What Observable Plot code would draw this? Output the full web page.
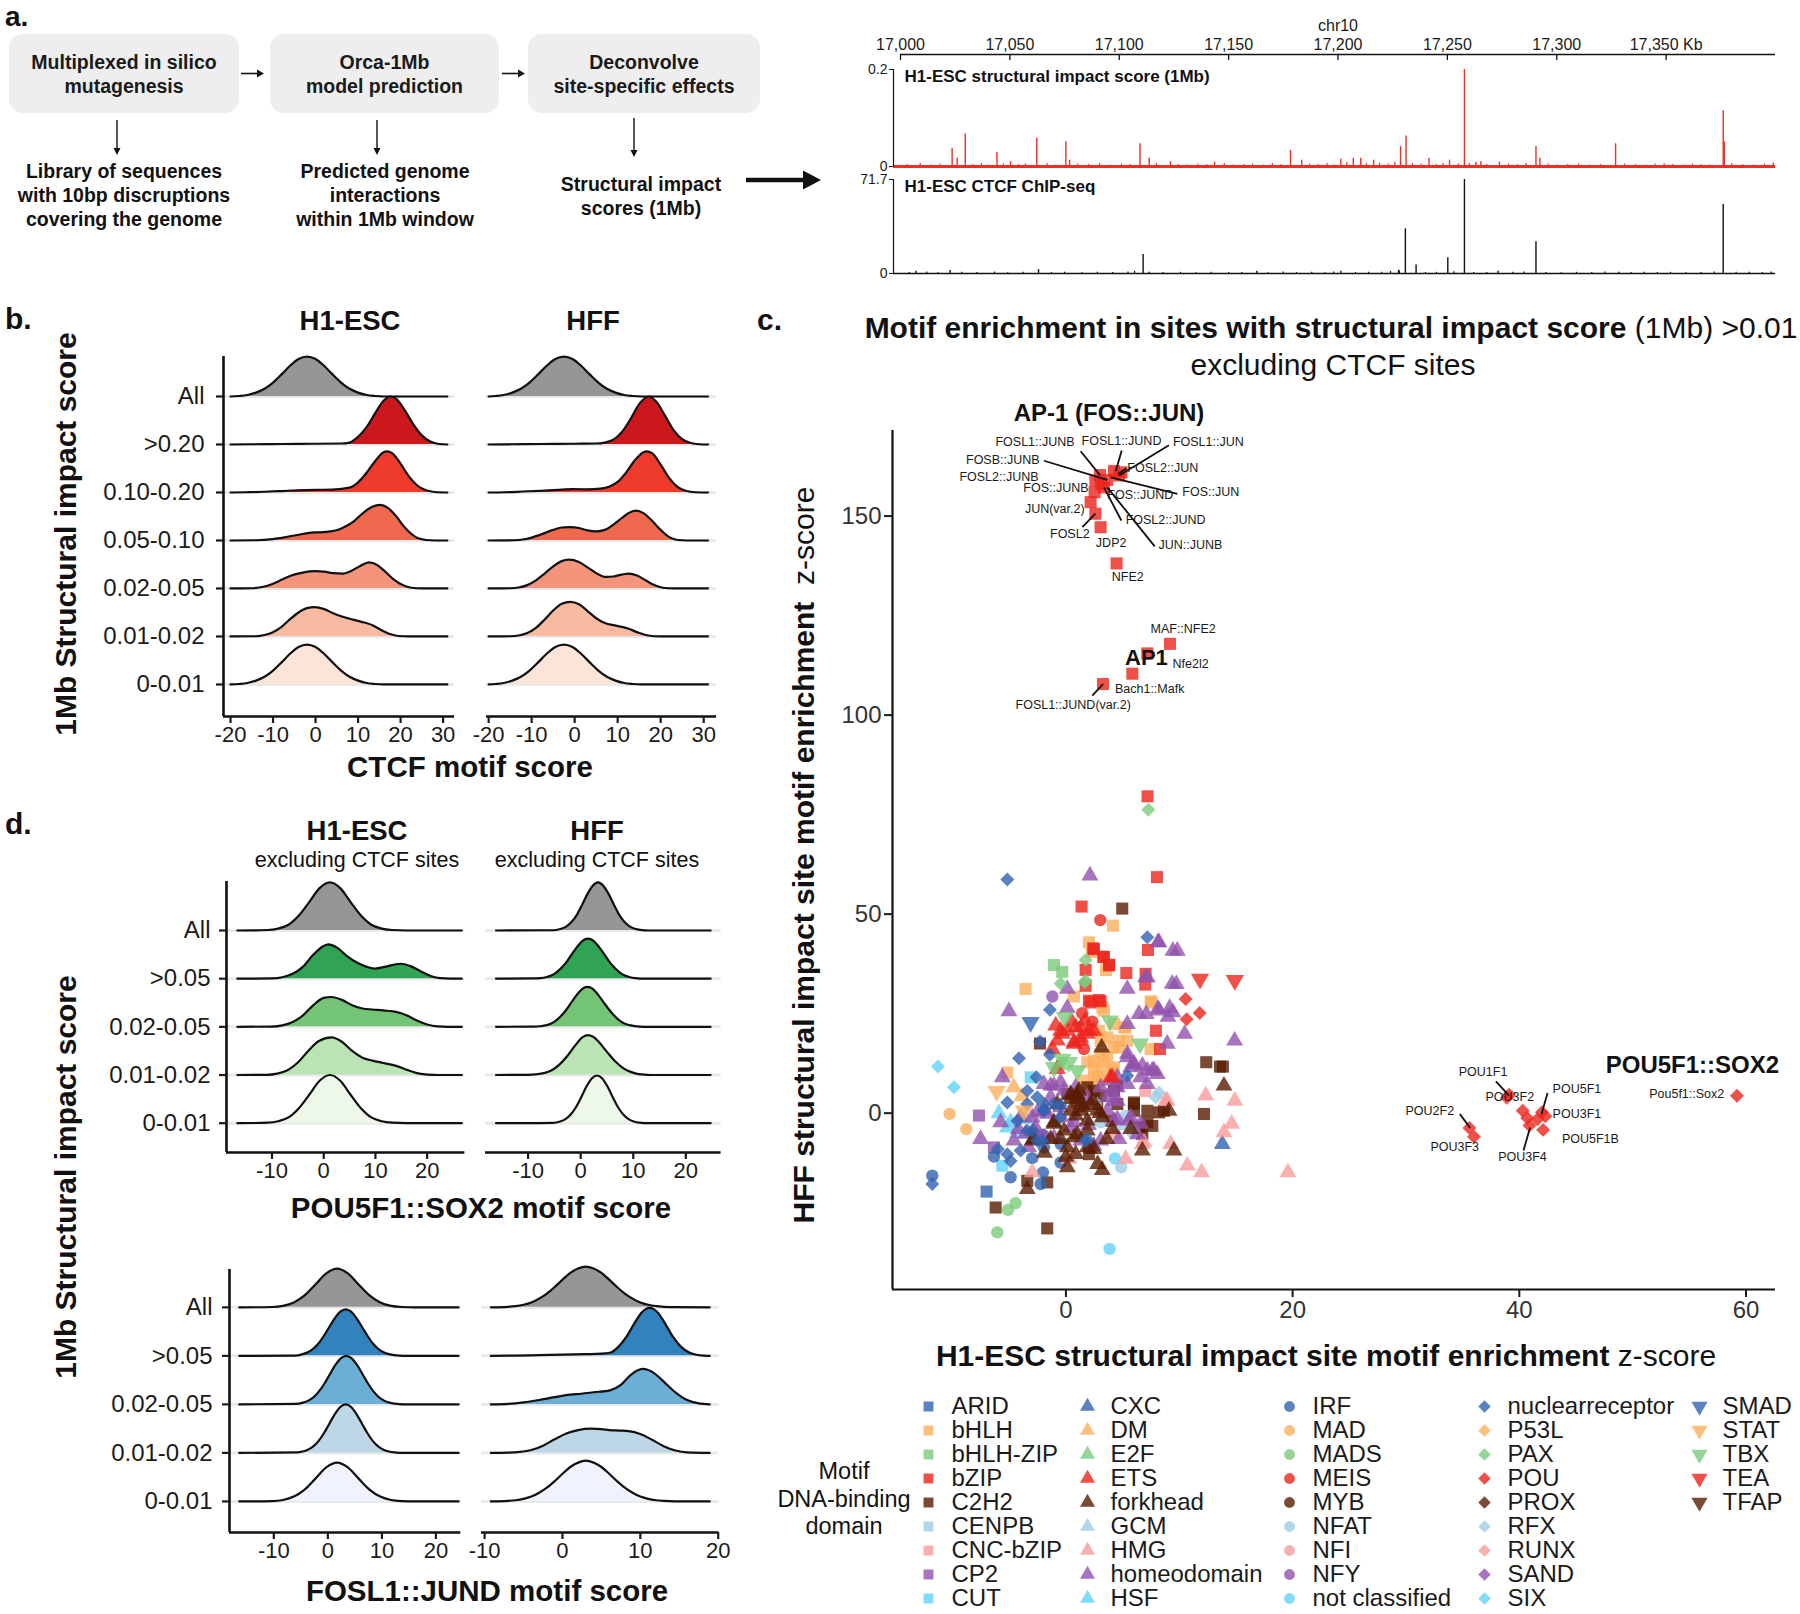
<!DOCTYPE html>
<html><head><meta charset="utf-8">
<script src="https://cdn.jsdelivr.net/npm/d3@7"></script>
<script src="https://cdn.jsdelivr.net/npm/@observablehq/plot@0.6"></script>
<style>
body{margin:0;background:#fff;}
#fig{position:relative;width:1800px;height:1614px;overflow:hidden;background:#fff;font-family:"Liberation Sans",Arial,Helvetica,sans-serif;color:#111;}
.box{position:absolute;background:#eeeeee;border-radius:14px;display:flex;align-items:center;justify-content:center;text-align:center;font-weight:bold;font-size:19.5px;line-height:24px;color:#1a1a1a;}
#fig svg{max-width:none !important;}
</style></head>
<body><div id="fig"></div>
<script>
// ---------------- DATA ----------------
// genome track (chr10, kb)
const genomeTicks = [17000, 17050, 17100, 17150, 17200, 17250, 17300, 17350];
const redPeaks = [[17023.6,0.037],[17025.9,0.017],[17029.6,0.067],[17044.1,0.029],[17050.3,0.010],[17057.1,0.005],[17062.3,0.058],[17075.6,0.051],[17077.3,0.013],[17109.5,0.047],[17113.7,0.017],[17123.4,0.010],[17143.6,0.009],[17178.3,0.033],[17183.4,0.013],[17201.3,0.015],[17207.0,0.017],[17210.4,0.017],[17216.3,0.013],[17228.6,0.041],[17231.1,0.063],[17241.6,0.017],[17251.0,0.013],[17257.8,0.200],[17263.0,0.009],[17265.3,0.010],[17273.8,0.009],[17290.5,0.041],[17292.3,0.017],[17326.9,0.047],[17349.1,0.005],[17376.1,0.115],[17376.6,0.051],[17399.0,0.007]];
const redNoise = [[17003,0.004],[17009,0.006],[17014,0.003],[17018,0.005],[17033,0.004],[17037,0.006],[17040,0.003],[17047,0.005],[17054,0.004],[17067,0.006],[17071,0.003],[17081,0.005],[17086,0.004],[17091,0.006],[17096,0.003],[17101,0.005],[17105,0.004],[17117,0.006],[17127,0.004],[17131,0.003],[17136,0.005],[17140,0.004],[17148,0.006],[17152,0.003],[17157,0.004],[17161,0.005],[17166,0.003],[17170,0.006],[17174,0.004],[17187,0.005],[17191,0.004],[17195,0.006],[17198,0.003],[17204,0.008],[17213,0.006],[17219,0.007],[17223,0.005],[17226,0.009],[17234,0.006],[17238,0.005],[17245,0.004],[17248,0.006],[17255,0.005],[17260,0.006],[17268,0.004],[17278,0.005],[17282,0.004],[17286,0.006],[17296,0.005],[17300,0.003],[17305,0.004],[17310,0.005],[17315,0.003],[17320,0.004],[17331,0.005],[17336,0.004],[17341,0.003],[17345,0.005],[17353,0.004],[17358,0.003],[17362,0.005],[17366,0.004],[17370,0.003],[17380,0.006],[17385,0.004],[17390,0.003],[17395,0.005]];
const chipPeaks = [[17007.1,1.8],[17022.7,2.3],[17063.1,3.0],[17110.9,14.5],[17113.7,1.0],[17162.9,1.8],[17201.3,1.8],[17227.7,2.5],[17230.8,34.1],[17235.7,6.4],[17250.2,12.0],[17257.8,71.7],[17273.2,1.8],[17290.5,24.2],[17328.4,1.0],[17376.1,52.6]];
const chipNoise = [[17004,0.8],[17012,1.2],[17017,0.6],[17028,0.9],[17035,0.7],[17043,1.1],[17049,0.6],[17056,0.9],[17069,0.7],[17075,1.0],[17083,0.6],[17090,0.9],[17097,0.8],[17104,1.1],[17107,1.6],[17120,0.7],[17128,0.9],[17135,0.6],[17142,1.0],[17150,0.7],[17156,0.8],[17168,0.6],[17175,1.1],[17181,0.7],[17188,0.9],[17194,0.6],[17198,1.2],[17208,0.8],[17214,0.9],[17220,1.0],[17224,1.6],[17228,2.0],[17240,0.8],[17245,0.9],[17253,1.3],[17262,0.8],[17268,0.7],[17280,0.9],[17285,1.1],[17295,0.8],[17302,0.6],[17309,0.9],[17316,0.7],[17322,1.1],[17334,0.8],[17340,1.0],[17346,0.7],[17352,0.9],[17359,0.6],[17366,0.8],[17372,1.1],[17382,0.9],[17388,1.0],[17394,0.8],[17398,1.2]];

// ridgelines
const ctcfRows = ["All", ">0.20", "0.10-0.20", "0.05-0.10", "0.02-0.05", "0.01-0.02", "0-0.01"];
const ctcfTicks = [-20, -10, 0, 10, 20, 30];
const ctcfH1 = [
 [[-20,0],[-18,0.01],[-16,0.03],[-14,0.08],[-12,0.16],[-10,0.29],[-8,0.46],[-6,0.64],[-4,0.78],[-2,0.83],[0,0.78],[2,0.64],[4,0.46],[6,0.29],[8,0.16],[10,0.08],[12,0.03],[14,0.01],[16,0],[31,0]],
 [[-20,0],[-14,0.005],[-8,0.01],[0,0.015],[6,0.02],[8,0.04],[10,0.16],[12,0.36],[14,0.65],[16,0.91],[17.7,1.0],[19,0.95],[21,0.71],[23,0.42],[25,0.19],[27,0.06],[29,0.01],[31,0]],
 [[-20,0],[-16,0.005],[-12,0.015],[-8,0.03],[-4,0.045],[0,0.055],[4,0.06],[8,0.1],[10,0.21],[12,0.41],[14,0.65],[16,0.84],[16.8,0.855],[18,0.82],[20,0.6],[22,0.33],[24,0.14],[26,0.045],[28,0.01],[31,0]],
 [[-20,0],[-14,0.005],[-10,0.03],[-7,0.07],[-4,0.12],[-1,0.165],[1,0.17],[3.5,0.19],[5.5,0.23],[7,0.29],[9,0.4],[10.5,0.52],[12.5,0.66],[15.2,0.74],[17,0.68],[19,0.5],[21,0.27],[22.5,0.14],[24,0.05],[26,0.01],[28,0],[31,0]],
 [[-20,0],[-15,0.005],[-12,0.04],[-10,0.1],[-8,0.18],[-6,0.26],[-3,0.33],[-0.2,0.36],[2,0.35],[4,0.32],[6.4,0.31],[8.5,0.37],[10.5,0.47],[12.6,0.545],[14.5,0.49],[16.5,0.34],[18.5,0.18],[20.5,0.07],[22.5,0.015],[25,0],[31,0]],
 [[-20,0],[-14,0.005],[-12,0.03],[-10,0.09],[-8,0.2],[-6,0.36],[-4,0.5],[-2,0.59],[-0.2,0.61],[2,0.57],[4,0.49],[6,0.42],[8,0.37],[9.7,0.33],[11.5,0.29],[13.5,0.23],[15.5,0.13],[17.5,0.05],[19.5,0.01],[22,0],[31,0]],
 [[-20,0],[-18,0.01],[-16,0.03],[-14,0.08],[-12,0.16],[-10,0.29],[-8,0.46],[-6,0.64],[-4,0.78],[-2,0.83],[0,0.78],[2,0.64],[4,0.46],[6,0.29],[8,0.16],[10,0.08],[12,0.03],[14,0.01],[16,0],[31,0]]
];
const ctcfHFF = [
 [[-20,0],[-18.5,0.01],[-16.5,0.03],[-14.5,0.08],[-12.5,0.16],[-10.5,0.29],[-8.5,0.46],[-6.5,0.64],[-4.5,0.78],[-2.5,0.83],[-0.5,0.78],[1.5,0.64],[3.5,0.46],[5.5,0.29],[7.5,0.16],[9.5,0.08],[11.5,0.03],[13.5,0.01],[15.5,0],[31,0]],
 [[-20,0],[-14,0.005],[-8,0.01],[0,0.015],[5,0.02],[7,0.04],[9,0.1],[11,0.26],[13,0.53],[15,0.84],[17.2,1.0],[19,0.89],[21,0.6],[23,0.3],[25,0.11],[27,0.03],[29,0.005],[31,0]],
 [[-20,0],[-16,0.005],[-12,0.02],[-8,0.035],[-4,0.055],[-0.5,0.07],[3,0.065],[6,0.08],[8,0.12],[10,0.22],[12,0.42],[14,0.67],[16,0.84],[16.7,0.855],[18,0.82],[20,0.58],[22,0.3],[24,0.11],[26,0.03],[28,0.005],[31,0]],
 [[-20,0],[-14,0.005],[-12,0.02],[-10,0.06],[-8,0.12],[-5,0.22],[-3,0.27],[-1,0.28],[1,0.26],[3,0.21],[5,0.19],[7,0.22],[9,0.33],[11,0.47],[12.5,0.57],[14.2,0.62],[16,0.57],[18,0.41],[20,0.22],[22,0.07],[24,0.01],[26,0],[31,0]],
 [[-20,0],[-15,0.005],[-13,0.02],[-11,0.07],[-9,0.17],[-7,0.31],[-5,0.46],[-3,0.57],[-1.3,0.6],[1,0.55],[3,0.44],[5,0.32],[7.2,0.24],[9,0.25],[11,0.29],[12.6,0.31],[14.5,0.27],[16.5,0.17],[18.5,0.07],[20.5,0.015],[23,0],[31,0]],
 [[-20,0],[-15,0.005],[-13,0.02],[-11,0.07],[-9,0.18],[-7,0.35],[-5,0.54],[-3,0.68],[-1,0.72],[1,0.67],[3,0.53],[5,0.38],[7,0.28],[9.3,0.23],[11,0.2],[12.6,0.16],[14.5,0.09],[16.5,0.03],[18.5,0.005],[21,0],[31,0]],
 [[-20,0],[-18.5,0.01],[-16.5,0.03],[-14.5,0.08],[-12.5,0.16],[-10.5,0.29],[-8.5,0.46],[-6.5,0.64],[-4.5,0.78],[-2.5,0.83],[-0.5,0.78],[1.5,0.64],[3.5,0.46],[5.5,0.29],[7.5,0.16],[9.5,0.08],[11.5,0.03],[13.5,0.01],[15.5,0],[31,0]]
];
const subRows = ["All", ">0.05", "0.02-0.05", "0.01-0.02", "0-0.01"];
const subTicks = [-10, 0, 10, 20];
const pouH1 = [
 [[-16.7,0],[-10.8,0.01],[-8.8,0.04],[-6.8,0.12],[-4.8,0.31],[-2.8,0.59],[-0.8,0.88],[1.2,1.0],[3.2,0.88],[5.2,0.59],[7.2,0.31],[9.2,0.12],[11.2,0.04],[13.2,0.01],[16,0],[26.7,0]],
 [[-16.7,0],[-10,0.005],[-8,0.03],[-6,0.1],[-4,0.25],[-2,0.5],[0,0.68],[0.9,0.71],[2.5,0.65],[4.5,0.47],[6.5,0.33],[8.5,0.24],[9.9,0.21],[12,0.25],[14.8,0.31],[16.8,0.26],[18.8,0.15],[20.8,0.05],[22.5,0.01],[24.5,0],[26.7,0]],
 [[-16.7,0],[-10,0.005],[-8,0.03],[-6,0.1],[-4,0.24],[-2,0.45],[0,0.6],[1.5,0.62],[3.5,0.56],[5.5,0.45],[7.5,0.38],[9.4,0.36],[11.5,0.34],[14,0.31],[16,0.24],[18,0.13],[20,0.05],[22,0.01],[24,0],[26.7,0]],
 [[-16.7,0],[-11,0.005],[-9,0.03],[-7,0.1],[-5,0.26],[-3,0.5],[-1,0.7],[1.5,0.78],[3.5,0.69],[5.5,0.5],[7.5,0.36],[9.4,0.3],[11.5,0.25],[14,0.19],[16,0.11],[18,0.04],[20,0.01],[22,0],[26.7,0]],
 [[-16.7,0],[-10.8,0.01],[-8.8,0.04],[-6.8,0.12],[-4.8,0.31],[-2.8,0.59],[-0.8,0.88],[1.2,1.0],[3.2,0.88],[5.2,0.59],[7.2,0.31],[9.2,0.12],[11.2,0.04],[13.2,0.01],[16,0],[26.7,0]]
];
const pouHFF = [
 [[-16.1,0],[-5,0.005],[-3.7,0.035],[-2.7,0.085],[-1.7,0.18],[-0.7,0.33],[0.3,0.54],[1.3,0.76],[2.3,0.93],[3.3,1.0],[4.3,0.93],[5.3,0.76],[6.3,0.54],[7.3,0.33],[8.3,0.18],[9.3,0.085],[10.3,0.035],[11.3,0.012],[13,0],[24.7,0]],
 [[-16.1,0],[-9,0.005],[-7.6,0.012],[-6.6,0.03],[-5.6,0.065],[-4.6,0.13],[-3.6,0.23],[-2.6,0.36],[-1.6,0.52],[-0.6,0.67],[0.4,0.79],[1.4,0.83],[2.4,0.79],[3.4,0.67],[4.4,0.52],[5.4,0.36],[6.4,0.23],[7.4,0.13],[8.4,0.065],[9.4,0.03],[10.4,0.012],[12,0],[24.7,0]],
 [[-16.1,0],[-9,0.005],[-7.7,0.012],[-6.7,0.03],[-5.7,0.065],[-4.7,0.13],[-3.7,0.23],[-2.7,0.36],[-1.7,0.52],[-0.7,0.67],[0.3,0.79],[1.3,0.83],[2.3,0.79],[3.3,0.67],[4.3,0.52],[5.3,0.37],[6.3,0.24],[7.3,0.14],[8.3,0.07],[9.3,0.035],[10.3,0.014],[12,0],[24.7,0]],
 [[-16.1,0],[-10,0.005],[-8.5,0.015],[-7,0.04],[-5.5,0.1],[-4,0.22],[-2.5,0.4],[-1,0.62],[0.3,0.78],[1.3,0.83],[2.3,0.8],[3.5,0.68],[5,0.48],[6.5,0.29],[8,0.15],[9.5,0.065],[11,0.02],[12.5,0.005],[14,0],[24.7,0]],
 [[-16.1,0],[-5.2,0.005],[-3.9,0.035],[-2.9,0.085],[-1.9,0.18],[-0.9,0.33],[0.1,0.54],[1.1,0.76],[2.1,0.93],[3.1,0.99],[4.1,0.93],[5.1,0.76],[6.1,0.54],[7.1,0.33],[8.1,0.18],[9.1,0.085],[10.1,0.035],[11.1,0.012],[13,0],[24.7,0]]
];
const fosH1 = [
 [[-16.4,0],[-10.3,0.007],[-8.3,0.03],[-6.3,0.1],[-4.3,0.245],[-2.3,0.47],[-0.3,0.7],[1.7,0.8],[3.7,0.7],[5.7,0.47],[7.7,0.245],[9.7,0.1],[11.7,0.03],[13.7,0.007],[16,0],[24.2,0]],
 [[-16.4,0],[-6,0.005],[-4.7,0.035],[-3.7,0.075],[-2.7,0.147],[-1.7,0.26],[-0.7,0.42],[0.3,0.6],[1.3,0.78],[2.3,0.91],[3.3,0.96],[4.3,0.91],[5.3,0.78],[6.3,0.6],[7.3,0.42],[8.3,0.26],[9.3,0.147],[10.3,0.075],[11.3,0.035],[12.3,0.014],[14,0],[24.2,0]],
 [[-16.4,0],[-6,0.01],[-4.6,0.036],[-3.6,0.078],[-2.6,0.153],[-1.6,0.272],[-0.6,0.435],[0.4,0.626],[1.4,0.812],[2.4,0.949],[3.4,1.0],[4.4,0.949],[5.4,0.812],[6.4,0.626],[7.4,0.435],[8.4,0.272],[9.4,0.153],[10.4,0.078],[11.4,0.036],[12.4,0.015],[14,0],[24.2,0]],
 [[-16.4,0],[-5.7,0.011],[-4.7,0.029],[-3.7,0.066],[-2.7,0.135],[-1.7,0.249],[-0.7,0.411],[0.3,0.607],[1.3,0.801],[2.3,0.946],[3.3,1.0],[4.3,0.946],[5.3,0.801],[6.3,0.607],[7.3,0.411],[8.3,0.249],[9.3,0.135],[10.3,0.066],[11.3,0.029],[12.3,0.011],[14,0],[24.2,0]],
 [[-16.4,0],[-10.3,0.007],[-8.3,0.03],[-6.3,0.1],[-4.3,0.245],[-2.3,0.47],[-0.3,0.7],[1.7,0.8],[3.7,0.7],[5.7,0.47],[7.7,0.245],[9.7,0.1],[11.7,0.03],[13.7,0.007],[16,0],[24.2,0]]
];
const fosHFF = [
 [[-9.2,0],[-7,0.011],[-6,0.025],[-5,0.053],[-4,0.1],[-3,0.18],[-2,0.285],[-1,0.42],[0,0.57],[1,0.71],[2,0.8],[3,0.84],[4,0.8],[5,0.71],[6,0.57],[7,0.42],[8,0.285],[9,0.18],[10,0.1],[11,0.053],[12,0.025],[13,0.011],[14.5,0.003],[18.9,0]],
 [[-9.2,0],[-6,0.005],[-3,0.015],[0,0.025],[3,0.035],[5,0.045],[6.2,0.07],[7.2,0.19],[8.2,0.39],[9.2,0.66],[10.2,0.9],[11.2,0.99],[12.2,0.9],[13.2,0.66],[14.2,0.39],[15.2,0.19],[16.2,0.076],[17.2,0.024],[18.2,0.005],[18.9,0]],
 [[-9.2,0],[-7,0.01],[-5,0.04],[-3,0.09],[-1,0.15],[1,0.2],[2.4,0.22],[4,0.25],[6.1,0.29],[7.5,0.4],[8.7,0.6],[10.3,0.73],[11.8,0.64],[13,0.47],[14.5,0.25],[16,0.09],[17.5,0.02],[18.9,0]],
 [[-9.2,0],[-7,0.005],[-5.5,0.02],[-4,0.06],[-2.5,0.15],[-1,0.28],[0.5,0.4],[2,0.47],[3.6,0.5],[5,0.49],[6,0.47],[7.3,0.46],[8.5,0.45],[10,0.39],[11.5,0.27],[13,0.14],[14.5,0.05],[16,0.01],[18.9,0]],
 [[-9.2,0],[-7,0.011],[-6,0.025],[-5,0.053],[-4,0.1],[-3,0.18],[-2,0.285],[-1,0.42],[0,0.57],[1,0.71],[2,0.8],[3,0.84],[4,0.8],[5,0.71],[6,0.57],[7,0.42],[8,0.285],[9,0.18],[10,0.1],[11,0.053],[12,0.025],[13,0.011],[14.5,0.003],[18.9,0]]
];
const redsFill = ["#969696", "#cb181d", "#ef3b2c", "#f0694f", "#f4947a", "#f8baa0", "#fde4d8"];
const greensFill = ["#969696", "#31a354", "#74c476", "#bae4b3", "#edf8e9"];
const bluesFill = ["#969696", "#3182bd", "#6baed6", "#bdd7e7", "#eff3ff"];

// motif families (legend columns: squares, triangles, circles, diamonds, down-triangles)
const famSquare = ["ARID","bHLH","bHLH-ZIP","bZIP","C2H2","CENPB","CNC-bZIP","CP2","CUT"];
const famTriangle = ["CXC","DM","E2F","ETS","forkhead","GCM","HMG","homeodomain","HSF"];
const famCircle = ["IRF","MAD","MADS","MEIS","MYB","NFAT","NFI","NFY","not classified"];
const famDiamond = ["nuclearreceptor","P53L","PAX","POU","PROX","RFX","RUNX","SAND","SIX"];
const famDown = ["SMAD","STAT","TBX","TEA","TFAP"];
const rowColors = ["#3163b0","#fcaf5e","#7aca7a","#ec241d","#5a1d02","#a0cde5","#fa9c9c","#9251ac","#60d3f9"];

// scatter: [family, H1-ESC z, HFF z]
const ptsSquare = [
 ["ARID",-7.0,-19.7],
 ["bHLH",4.15,47.1],["bHLH",2.03,42.9],["bHLH",2.3,40.5],["bHLH",3.53,35.95],["bHLH",-3.56,31.2],["bHLH",0.71,29.3],["bHLH",7.56,27.8],["bHLH",7.47,28.1],["bHLH",3.21,26.6],["bHLH",3.35,25.75],["bHLH",4.24,22.4],["bHLH",5.12,21.6],["bHLH",5.27,21.5],["bHLH",2.91,20.7],["bHLH",3.65,19.05],["bHLH",3.06,18.2],["bHLH",4.68,18.2],["bHLH",5.42,18.2],["bHLH",4.24,16.5],["bHLH",4.68,16.5],["bHLH",7.47,16.1],["bHLH",3.06,14.8],["bHLH",3.65,14.0],["bHLH",2.47,13.2],["bHLH",1.88,12.8],["bHLH",4.24,11.5],["bHLH",3.06,10.7],["bHLH",2.76,9.0],["bHLH",2.47,9.0],["bHLH",2.77,7.3],["bHLH",2.03,6.5],["bHLH",-5.17,10.2],["bHLH",2.47,11.5],["bHLH",3.35,13.2],["bHLH",4.09,10.7],["bHLH",2.91,9.0],["bHLH",1.59,8.2],
 ["bHLH-ZIP",-1.06,37.2],["bHLH-ZIP",-0.32,35.5],
 ["C2H2",4.97,51.4],["C2H2",-2.29,17.5],["C2H2",12.38,12.8],["C2H2",13.59,11.7],["C2H2",13.85,11.7],["C2H2",12.18,-0.2],["C2H2",7.18,0.6],["C2H2",6.0,2.7],["C2H2",7.62,-3.2],["C2H2",-6.2,-23.7],["C2H2",-1.65,-28.95],["C2H2",-1.65,-17.4],["C2H2",-3.41,-17.0],["C2H2",2.03,-10.3],["C2H2",2.18,-8.6],["C2H2",6.59,-3.6],["C2H2",0.12,4.8],["C2H2",1.0,3.1],["C2H2",2.76,2.3],["C2H2",6.0,0.6],["C2H2",3.94,-1.9],["C2H2",2.47,5.65],["C2H2",4.24,5.65],["C2H2",8.21,0.2],["C2H2",6.45,-3.6],["C2H2",4.5,7.0],["C2H2",1.88,6.5],["C2H2",3.06,4.4],["C2H2",4.53,2.3],["C2H2",6.0,2.3],["C2H2",8.65,0.6],["C2H2",7.18,-2.3],["C2H2",6.74,-5.2],
 ["CNC-bZIP",7.0,5.6],
 ["CP2",-7.67,-0.6],["CP2",-6.35,-8.6],
 ["CUT",-5.61,-13.2],["CUT",-3.11,9.0],
 ["bZIP",7.2,79.6],["bZIP",8.03,59.3],["bZIP",1.38,51.9],["bZIP",7.24,41.0],["bZIP",2.41,41.4],["bZIP",2.47,41.2],["bZIP",3.3,39.3],["bZIP",3.35,39.2],["bZIP",3.83,37.3],["bZIP",3.8,37.1],["bZIP",1.74,36.0],["bZIP",5.33,35.2],["bZIP",7.03,35.0],["bZIP",7.0,32.3],["bZIP",1.74,32.0],["bZIP",2.03,28.25],["bZIP",2.91,28.4],["bZIP",2.18,27.8],["bZIP",3.06,28.1],["bZIP",7.94,20.7],["bZIP",8.3,16.1],
 ["bZIP",3.0,160.3],["bZIP",4.24,161.3],["bZIP",4.7,160.2],["bZIP",4.9,161.0],["bZIP",3.65,159.1],["bZIP",2.6,158.9],["bZIP",3.1,158.0],["bZIP",3.35,157.2],["bZIP",2.53,156.0],["bZIP",2.18,153.5],["bZIP",2.6,150.6],["bZIP",3.06,147.2],["bZIP",4.47,138.1],["bZIP",9.18,117.9],["bZIP",7.18,115.5],["bZIP",5.86,110.4],["bZIP",3.27,107.8]
];
const ptsTriangle = [
 ["CXC",13.8,-7.75],
 ["DM",-4.6,6.5],["DM",-3.9,4.2],
 ["E2F",-0.6,12.0],
 ["GCM",5.0,-3.0],
 ["HSF",-5.91,-0.05],["HSF",-5.17,-3.6],["HSF",-3.56,-1.5],["HSF",-4.3,-5.0],["HSF",-4.88,-2.3],
 ["HMG",12.33,4.4],["HMG",14.9,3.1],["HMG",14.62,-2.7],["HMG",13.94,-4.8],["HMG",9.24,-7.8],["HMG",10.71,-13.2],["HMG",11.97,-14.9],["HMG",19.59,-14.9],["HMG",5.27,-11.5],["HMG",6.88,-7.3],["HMG",8.94,3.1],["HMG",-2.97,-14.9],["HMG",0.27,-11.5],["HMG",4.24,-5.3],["HMG",6.74,-7.8],["HMG",8.8,3.1],
 ["homeodomain",2.12,59.7],["homeodomain",8.12,42.9],["homeodomain",9.44,40.8],["homeodomain",9.83,40.8],["homeodomain",8.21,42.9],["homeodomain",7.18,34.1],["homeodomain",7.03,34.1],["homeodomain",9.74,32.4],["homeodomain",9.38,32.5],["homeodomain",5.41,31.2],["homeodomain",0.12,31.2],["homeodomain",-5.03,25.6],["homeodomain",0.12,26.4],["homeodomain",7.09,24.9],["homeodomain",8.12,26.2],["homeodomain",9.15,26.4],["homeodomain",9.44,25.3],["homeodomain",9.0,24.2],["homeodomain",6.45,24.9],["homeodomain",8.21,25.75],["homeodomain",5.42,22.4],["homeodomain",14.88,18.2],["homeodomain",10.47,19.9],["homeodomain",8.94,17.4],["homeodomain",5.42,14.9],["homeodomain",5.41,14.0],["homeodomain",6.0,12.3],["homeodomain",5.71,11.5],["homeodomain",6.74,11.9],["homeodomain",7.77,10.7],["homeodomain",7.18,10.7],["homeodomain",3.94,8.2],["homeodomain",-5.61,9.0],["homeodomain",-1.35,6.9],["homeodomain",-1.94,7.3],["homeodomain",-1.06,6.9],["homeodomain",-0.17,5.65],["homeodomain",0.86,6.5],["homeodomain",4.53,6.5],["homeodomain",1.88,4.0],["homeodomain",3.65,4.0],["homeodomain",4.53,3.1],["homeodomain",4.24,3.1],["homeodomain",-1.94,0.6],["homeodomain",3.65,0.6],["homeodomain",-1.64,-0.2],["homeodomain",-0.47,-1.05],["homeodomain",-2.97,-1.1],["homeodomain",5.71,-1.05],["homeodomain",4.53,-1.5],["homeodomain",5.56,-1.9],["homeodomain",4.24,-1.9],["homeodomain",0.71,-2.3],["homeodomain",-5.76,-2.3],["homeodomain",6.59,-2.7],["homeodomain",2.0,-3.0],["homeodomain",-2.67,-3.6],["homeodomain",-4.2,-4.0],["homeodomain",6.3,-5.3],["homeodomain",-1.94,-6.1],["homeodomain",4.68,-6.5],["homeodomain",-7.53,-6.5],["homeodomain",1.3,-6.9],["homeodomain",3.06,-6.9],["homeodomain",2.47,-8.2],["homeodomain",-3.3,-8.5],
 ["homeodomain",3.06,6.5],["homeodomain",4.09,5.65],["homeodomain",5.42,7.3],["homeodomain",6.59,9.0],["homeodomain",7.18,7.3],["homeodomain",7.62,10.7],["homeodomain",8.06,9.8],["homeodomain",6.0,12.35],["homeodomain",4.53,9.0],["homeodomain",-0.47,7.75],["homeodomain",-1.35,4.0],["homeodomain",-0.47,1.46],["homeodomain",0.42,-3.55],["homeodomain",-1.06,-6.1],["homeodomain",-2.82,-4.4],["homeodomain",-4.0,-1.05],["homeodomain",-4.58,-6.9],["homeodomain",-3.56,-5.2],["homeodomain",-2.53,0.2],
 ["forkhead",3.15,16.5],["forkhead",13.94,6.9],["forkhead",9.09,0.6],["forkhead",9.53,-9.4],["forkhead",3.21,-14.3],["forkhead",0.12,-13.6],["forkhead",1.88,-8.6],["forkhead",1.0,-5.3],["forkhead",-1.06,-2.3],["forkhead",-2.97,-6.9],["forkhead",-3.41,-19.1],["forkhead",0.86,-10.3],["forkhead",2.47,-9.0],["forkhead",1.3,0.6],["forkhead",1.88,-1.9],["forkhead",0.12,-8.6],["forkhead",-1.35,-6.5],["forkhead",1.0,4.8],["forkhead",6.74,-9.4],["forkhead",0.42,4.8],["forkhead",1.0,4.0],["forkhead",1.3,2.3],["forkhead",-0.76,2.3],["forkhead",0.42,0.6],["forkhead",-1.06,-2.7],["forkhead",-0.17,-4.4],["forkhead",4.09,-4.0],["forkhead",5.71,-4.0],["forkhead",-0.47,-6.5],["forkhead",0.71,-6.1],["forkhead",-2.82,-6.5],["forkhead",2.2,2.0],["forkhead",3.0,0.0],["forkhead",3.6,-6.5],["forkhead",0.0,-11.0],["forkhead",-1.9,-10.0],["forkhead",2.8,-12.8],
 ["forkhead",0.42,3.55],["forkhead",1.15,5.65],["forkhead",1.59,1.46],["forkhead",2.33,3.14],["forkhead",2.77,0.62],["forkhead",0.86,-0.63],["forkhead",1.88,-4.4],["forkhead",3.21,-1.05],
 ["ETS",0.12,20.7],["ETS",1.3,21.5],["ETS",-0.76,18.2],["ETS",1.88,19.9],["ETS",0.71,17.8],["ETS",-1.2,16.1],["ETS",-0.32,19.9],["ETS",2.47,20.7],["ETS",1.3,18.2],["ETS",3.94,9.0],["ETS",-0.47,20.7],["ETS",0.86,21.6],["ETS",1.3,19.0],["ETS",2.03,20.7],["ETS",0.71,17.4],["ETS",-0.76,11.1],["ETS",4.09,9.0],["ETS",0.5,23.0],["ETS",-0.9,22.0],["ETS",1.7,23.2]
];
const ptsCircle = [
 ["IRF",-11.79,-15.7],["IRF",-6.35,-10.9],["IRF",-4.88,-16.1],["IRF",-2.97,-11.3],["IRF",-2.03,-14.9],["IRF",-2.23,-17.8],["IRF",-0.47,-12.4],["IRF",-0.47,-7.75],["IRF",-2.0,-5.5],["IRF",-1.94,-8.6],
 ["MAD",-10.26,-0.2],["MAD",-8.79,-4.0],
 ["MADS",-4.44,-22.6],["MADS",-5.11,-24.3],["MADS",-6.06,-29.96],
 ["MEIS",3.03,48.5],["MEIS",1.44,25.1],["MEIS",2.33,23.0],["MEIS",1.59,16.1],
 ["NFAT",4.88,-13.6],["NFAT",3.06,-2.3],["NFAT",2.62,2.3],["NFAT",5.27,-0.65],["NFAT",6.0,-4.4],["NFAT",5.85,-4.8],
 ["NFY",-1.2,29.3],
 ["not classified",3.85,-34.1],["not classified",4.33,-11.4]
];
const ptsDiamond = [
 ["nuclearreceptor",-5.17,58.7],["nuclearreceptor",7.18,44.2],["nuclearreceptor",-1.41,26.0],["nuclearreceptor",-2.29,18.0],["nuclearreceptor",-4.14,13.8],["nuclearreceptor",-1.41,14.7],["nuclearreceptor",-2.6,9.0],["nuclearreceptor",-3.41,5.6],["nuclearreceptor",-5.17,2.7],["nuclearreceptor",5.41,9.4],["nuclearreceptor",-1.06,2.3],["nuclearreceptor",-2.53,4.0],["nuclearreceptor",-1.94,2.3],["nuclearreceptor",-1.94,1.0],["nuclearreceptor",-0.47,1.9],["nuclearreceptor",-3.41,-4.4],["nuclearreceptor",-2.53,-6.9],["nuclearreceptor",1.74,-6.9],["nuclearreceptor",1.88,-6.5],["nuclearreceptor",-6.0,-9.0],["nuclearreceptor",-4.0,-9.4],["nuclearreceptor",-5.17,-10.3],["nuclearreceptor",-4.88,-12.0],["nuclearreceptor",-11.79,-17.8],
 ["nuclearreceptor",-1.94,0.6],["nuclearreceptor",-3.41,2.3],["nuclearreceptor",-4.29,-1.9],["nuclearreceptor",-2.97,-4.4],["nuclearreceptor",-2.08,-6.9],["nuclearreceptor",-0.47,-1.05],
 ["PAX",7.27,76.2],["PAX",1.74,38.5],["PAX",1.65,32.9],["PAX",-0.47,32.6],["PAX",1.74,33.3],
 ["RFX",8.21,5.2],["RFX",7.92,3.97],
 ["SIX",-11.29,11.7],["SIX",-9.88,6.5],
 ["POU",10.56,28.7],["POU",11.8,25.15],["POU",10.65,23.6],["POU",39.1,4.6],["POU",38.9,3.9],["POU",40.3,0.6],["POU",40.7,-1.2],["POU",41.6,-1.5],["POU",42.0,0.2],["POU",42.3,-0.8],["POU",40.9,-3.1],["POU",42.1,-4.2],["POU",35.6,-3.7],["POU",36.0,-5.9],["POU",59.2,4.4]
];
const ptsDown = [
 ["SMAD",-3.12,22.8],
 ["STAT",-6.11,5.5],["STAT",-3.7,0.6],
 ["TBX",-0.09,24.1],["TBX",3.88,23.2],["TBX",6.53,17.4],["TBX",-0.32,13.6],["TBX",1.0,10.7],["TBX",0.27,12.8],["TBX",-1.06,11.5],
 ["TEA",11.83,33.7],["TEA",14.9,33.4]
];
// motif labels: [text, x, y, anchor]
const motifLabels = [
 ["FOSL1::JUNB",0.77,168.5,"end"],["FOSL1::JUND",4.9,168.8,"middle"],["FOSL1::JUN",9.44,168.5,"start"],
 ["FOSB::JUNB",-2.32,164.1,"end"],["FOSL2::JUN",5.42,162.1,"start"],["FOSL2::JUNB",-2.41,159.7,"end"],
 ["FOS::JUNB",2.0,157.1,"end"],["FOS::JUND",3.65,155.2,"start"],["FOS::JUN",10.27,156.0,"start"],
 ["JUN(var.2)",1.65,151.8,"end"],["FOSL2::JUND",5.27,148.9,"start"],["FOSL2",2.09,145.4,"end"],
 ["JDP2",3.99,143.3,"middle"],["JUN::JUNB",8.16,142.8,"start"],["NFE2",5.45,134.6,"middle"],
 ["MAF::NFE2",10.34,121.7,"middle"],["Nfe2l2",11.0,112.9,"middle"],["Bach1::Mafk",7.39,106.6,"middle"],
 ["FOSL1::JUND(var.2)",0.64,102.6,"middle"],
 ["Pou5f1::Sox2",58.08,4.82,"end"],["POU1F1",36.8,10.25,"middle"],["POU3F2",39.16,4.15,"middle"],
 ["POU5F1",45.08,6.1,"middle"],["POU3F1",45.08,-0.2,"middle"],["POU5F1B",46.27,-6.5,"middle"],
 ["POU3F4",40.28,-10.9,"middle"],["POU2F2",32.1,0.6,"middle"],["POU3F3",34.3,-8.6,"middle"]
];
const groupLabels = [["AP-1 (FOS::JUN)",3.8,175.9],["AP1",7.1,114.3],["POU5F1::SOX2",55.27,11.93]];
// leader segments [x1,y1,x2,y2]
const leaders = [
 [1.30,166.3,3.0,160.3],[4.92,166.5,4.4,161.3],[9.09,167.8,4.7,160.2],[-1.94,163.9,3.65,159.1],
 [5.35,162.0,4.6,160.6],[9.83,155.6,3.95,159.7],[4.89,148.9,3.35,157.2],[1.45,147.2,2.6,150.6],
 [7.83,142.4,3.65,157.2],[2.33,104.9,3.27,107.8],
 [37.93,8.0,39.1,4.4],[42.49,5.08,41.96,-0.2],[40.37,-9.4,40.95,-3.6],[34.75,-0.2,35.66,-3.7]
];

// ---------------- HELPERS ----------------
const FONT = '"Liberation Sans", Arial, Helvetica, sans-serif';
const fig = document.getElementById("fig");
const STYLE = {fontFamily: FONT, color: "#1a1a1a", background: "none", overflow: "visible", maxWidth: "none"};
function addText(html, x, y, size, o = {}) {
  const d = document.createElement("div");
  d.innerHTML = html;
  Object.assign(d.style, {position: "absolute", whiteSpace: "nowrap", fontSize: size + "px",
    fontWeight: o.weight || "normal", lineHeight: o.lh || "1.15", color: o.color || "#111",
    left: x + "px", top: y + "px", textAlign: o.align || "left"});
  const tx = o.anchor === "start" ? "0" : o.anchor === "end" ? "-100%" : "-50%";
  const ty = o.valign === "top" ? "0" : "-50%";
  d.style.transform = `translate(${tx},${ty})` + (o.rotate ? ` rotate(${o.rotate}deg)` : "");
  fig.appendChild(d);
  return d;
}
function addPlot(el, left, top) {
  const w = document.createElement("div");
  Object.assign(w.style, {position: "absolute", left: left + "px", top: top + "px",
    width: el.getAttribute("width") + "px", height: el.getAttribute("height") + "px"});
  w.appendChild(el);
  fig.appendChild(w);
}
const symbolDown = {draw(ctx, size) {
  const y = Math.sqrt(size / (Math.sqrt(3) * 3));
  ctx.moveTo(0, 2 * y); ctx.lineTo(-Math.sqrt(3) * y, -y); ctx.lineTo(Math.sqrt(3) * y, -y); ctx.closePath();
}};
const famCols = [famSquare, famTriangle, famCircle, famDiamond, famDown];
const famNames = famCols.flat();
const famColors = famCols.flatMap(col => col.map((f, r) => rowColors[r]));
const colorScale = {domain: famNames, range: famColors};

// ---------------- PANEL a ----------------
addText("a.", 5, 3, 28, {weight: "bold", anchor: "start", valign: "top", lh: "1"});
[[9, 230, "Multiplexed in silico<br>mutagenesis"], [270, 229, "Orca-1Mb<br>model prediction"], [528, 232, "Deconvolve<br>site-specific effects"]].forEach(([l, w, t]) => {
  const b = document.createElement("div"); b.className = "box";
  Object.assign(b.style, {left: l + "px", top: "34px", width: w + "px", height: "79px"});
  b.innerHTML = t; fig.appendChild(b);
});
addText("Library of sequences<br>with 10bp discruptions<br>covering the genome", 124, 195, 19.5, {weight: "bold", align: "center", lh: "24px"});
addText("Predicted genome<br>interactions<br>within 1Mb window", 385, 195, 19.5, {weight: "bold", align: "center", lh: "24px"});
addText("Structural impact<br>scores (1Mb)", 641, 196, 19.5, {weight: "bold", align: "center", lh: "24px"});
{
  const s = d3.create("svg").attr("width", 840).attr("height", 240)
    .style("position", "absolute").style("left", "0px").style("top", "0px");
  const g = s.append("g").attr("stroke", "#111").attr("fill", "#111");
  [241, 502].forEach(x0 => {
    g.append("line").attr("x1", x0).attr("x2", x0 + 17).attr("y1", 73.5).attr("y2", 73.5).attr("stroke-width", 1.6);
    g.append("path").attr("d", `M${x0 + 16},69.5L${x0 + 23},73.5L${x0 + 16},77.5Z`).attr("stroke", "none");
  });
  [[117, 120, 155], [377, 120, 155], [634, 118, 157]].forEach(([x, y0, y1]) => {
    g.append("line").attr("x1", x).attr("x2", x).attr("y1", y0).attr("y2", y1 - 6).attr("stroke-width", 1.4);
    g.append("path").attr("d", `M${x - 3.5},${y1 - 7}L${x},${y1}L${x + 3.5},${y1 - 7}Z`).attr("stroke", "none");
  });
  g.append("line").attr("x1", 746).attr("x2", 806).attr("y1", 180).attr("y2", 180).attr("stroke-width", 4.5);
  g.append("path").attr("d", "M803,170.5L821,180L803,189.5Z").attr("stroke", "none");
  fig.appendChild(s.node());
}
// genome axis
addPlot(Plot.plot({
  width: 920, height: 50, marginLeft: 20, marginRight: 25, marginTop: 40, marginBottom: 4,
  x: {domain: [17000, 17400]}, y: {domain: [0, 1], axis: null}, style: STYLE,
  marks: [
    Plot.ruleY([1], {stroke: "#111", strokeWidth: 1.5}),
    Plot.tickX(genomeTicks, {x: d => d, stroke: "#111", strokeWidth: 1.3}),
    Plot.axisX({anchor: "top", ticks: genomeTicks, tickSize: 0, tickPadding: 5, fontSize: 16, label: null,
      tickFormat: d => d3.format(",")(d) + (d === 17350 ? " Kb" : "")}),
    Plot.text(["chr10"], {frameAnchor: "top", dy: -35, fontSize: 16})
  ]
}), 880, 14);
function track(peaks, noise, ymax, yTickLabel, color, title, top, h) {
  addPlot(Plot.plot({
    width: 952, height: 5 + h + 4, marginLeft: 45, marginRight: 25, marginTop: 5, marginBottom: 4,
    x: {domain: [17000, 17400], insetLeft: 7, axis: null}, y: {domain: [0, ymax]}, style: STYLE,
    marks: [
      Plot.ruleX(noise, {x: d => d[0], y1: 0, y2: d => d[1], stroke: color, strokeWidth: 1.2}),
      Plot.ruleX(peaks, {x: d => d[0], y1: 0, y2: d => d[1], stroke: color, strokeWidth: 1.4}),
      Plot.ruleY([0], {stroke: color, strokeWidth: color === "#111" ? 1.5 : 3.2}),
      Plot.ruleX([17000], {dx: -7, stroke: "#111", strokeWidth: 1.2}),
      Plot.axisY({ticks: [0, ymax], tickSize: 4, tickPadding: 2, fontSize: 14, label: null, tickFormat: d => d === 0 ? "0" : yTickLabel}),
      Plot.text([title], {frameAnchor: "top-left", dx: 11, dy: 0, lineAnchor: "top", fontSize: 17, fontWeight: "bold", fill: "#111"})
    ]
  }), 848, top - 5);
}
track(redPeaks, redNoise, 0.2, "0.2", "#ef2e25", "H1-ESC structural impact score (1Mb)", 69, 97);
track(chipPeaks, chipNoise, 71.7, "71.7", "#111", "H1-ESC CTCF ChIP-seq", 179, 94);

// ---------------- RIDGELINES ----------------
function ridge({rows, curves, fills, xDomain, xTicks, frame, yDomain, showY, pad}) {
  const n = rows.length;
  const mL = showY ? 150 : 4, mR = 10, mT = 4, mB = 44;
  const fw = frame.right - frame.left, fh = frame.bottom - frame.top;
  const bases = rows.map((_, i) => n - 1 - i);
  const marks = [Plot.ruleY(bases, {stroke: "#e9e9e9", strokeWidth: 3})];
  curves.forEach((pts, i) => {
    const d = pts.map(([x, h]) => ({x, base: bases[i], top: bases[i] + h}));
    marks.push(Plot.areaY(d, {x: "x", y1: "base", y2: "top", fill: fills[i], curve: "monotone-x"}));
    marks.push(Plot.lineY(d, {x: "x", y: "top", stroke: "#111", strokeWidth: 2.2, curve: "monotone-x"}));
  });
  marks.push(Plot.ruleY([yDomain[0]], {stroke: "#111", strokeWidth: 2.6}));
  marks.push(Plot.axisX({ticks: xTicks, tickSize: 7, tickPadding: 3, fontSize: 22, strokeWidth: 2.2, label: null, tickFormat: d => String(d)}));
  if (showY) {
    marks.push(Plot.ruleX([xDomain[0]], {stroke: "#111", strokeWidth: 2.6}));
    marks.push(Plot.axisY({ticks: bases, tickFormat: b => rows[n - 1 - b], tickSize: 7, tickPadding: pad || 9, fontSize: 24, strokeWidth: 2.2, label: null}));
  }
  addPlot(Plot.plot({
    width: mL + fw + mR, height: mT + fh + mB, marginLeft: mL, marginRight: mR, marginTop: mT, marginBottom: mB,
    x: {domain: xDomain, label: null}, y: {domain: yDomain, label: null, axis: showY ? undefined : null},
    style: STYLE, marks
  }), frame.left - mL, frame.top - mT);
}
// panel b
addText("b.", 5, 319, 30, {weight: "bold", anchor: "start"});
addText("H1-ESC", 350, 321, 27.5, {weight: "bold"});
addText("HFF", 593, 321, 27.5, {weight: "bold"});
ridge({rows: ctcfRows, curves: ctcfH1, fills: redsFill, xDomain: [-21.65, 32.7], xTicks: ctcfTicks,
  frame: {left: 222.6, right: 453.7, top: 356, bottom: 716}, yDomain: [-0.667, 6.833], showY: true, pad: 12});
ridge({rows: ctcfRows, curves: ctcfHFF, fills: redsFill, xDomain: [-20.5, 33.0], xTicks: ctcfTicks,
  frame: {left: 486.4, right: 716.5, top: 356, bottom: 716}, yDomain: [-0.667, 6.833], showY: false});
addText("CTCF motif score", 470, 767, 29.5, {weight: "bold"});
addText("1Mb Structural impact score", 66, 534, 30, {weight: "bold", rotate: -90});
// panel d
addText("d.", 5, 824, 30, {weight: "bold", anchor: "start"});
addText("H1-ESC", 357, 831, 27.5, {weight: "bold"});
addText("excluding CTCF sites", 357, 860, 21.5);
addText("HFF", 597, 831, 27.5, {weight: "bold"});
addText("excluding CTCF sites", 597, 860, 21.5);
ridge({rows: subRows, curves: pouH1, fills: greensFill, xDomain: [-18.8, 27.3], xTicks: subTicks,
  frame: {left: 225.5, right: 463.9, top: 881, bottom: 1152}, yDomain: [-0.608, 5.017], showY: true, pad: 9});
ridge({rows: subRows, curves: pouHFF, fills: greensFill, xDomain: [-18.1, 26.7], xTicks: subTicks,
  frame: {left: 485.2, right: 720.8, top: 881, bottom: 1152}, yDomain: [-0.608, 5.017], showY: false});
addText("POU5F1::SOX2 motif score", 481, 1208, 29.5, {weight: "bold"});
ridge({rows: subRows, curves: fosH1, fills: bluesFill, xDomain: [-18.2, 24.6], xTicks: subTicks,
  frame: {left: 228.7, right: 460, top: 1269, bottom: 1532}, yDomain: [-0.64, 4.78], showY: true, pad: 10});
ridge({rows: subRows, curves: fosHFF, fills: bluesFill, xDomain: [-10.4, 20.1], xTicks: subTicks,
  frame: {left: 480.5, right: 718, top: 1269, bottom: 1532}, yDomain: [-0.64, 4.78], showY: false});
addText("FOSL1::JUND motif score", 487, 1591, 29.5, {weight: "bold"});
addText("1Mb Structural impact score", 66, 1177, 30, {weight: "bold", rotate: -90});

// ---------------- PANEL c ----------------
addText("c.", 757, 320, 30, {weight: "bold", anchor: "start"});
addText("<b>Motif enrichment in sites with structural impact score</b> (1Mb) &gt;0.01", 1331, 328, 30);
addText("excluding CTCF sites", 1333, 365, 30);
const xs = d => d[1], ys = d => d[2], fam = d => d[0];
const dotOpts = (sym, r) => ({x: xs, y: ys, fill: fam, symbol: sym, r, fillOpacity: 0.8});
addPlot(Plot.plot({
  width: 978, height: 60 + 859 + 45, marginLeft: 70, marginRight: 25, marginTop: 60, marginBottom: 45,
  x: {domain: [-15.3, 62.6], label: null}, y: {domain: [-44.3, 171.5], label: null},
  color: colorScale, style: STYLE,
  marks: [
    Plot.ruleX([-15.3], {stroke: "#111", strokeWidth: 2.2}),
    Plot.ruleY([-44.3], {stroke: "#111", strokeWidth: 2.2}),
    Plot.axisX({ticks: [0, 20, 40, 60], tickSize: 8, tickPadding: 3, fontSize: 24, strokeWidth: 2, fill: "#333", label: null}),
    Plot.axisY({ticks: [0, 50, 100, 150], tickSize: 8, tickPadding: 3, fontSize: 24, strokeWidth: 2, fill: "#333", label: null}),
    Plot.dot(ptsSquare, dotOpts(d3.symbolSquare, 6.8)),
    Plot.dot(ptsCircle, dotOpts(d3.symbolCircle, 6.2)),
    Plot.dot(ptsTriangle, dotOpts(d3.symbolTriangle, 6.3)),
    Plot.dot(ptsDiamond, dotOpts(d3.symbolDiamond2, 6.3)),
    Plot.dot(ptsDown, dotOpts(symbolDown, 6.8)),
    Plot.link(leaders, {x1: d => d[0], y1: d => d[1], x2: d => d[2], y2: d => d[3], stroke: "#111", strokeWidth: 1.8}),
    ...["start", "middle", "end"].map(a => Plot.text(motifLabels.filter(d => d[3] === a),
      {x: d => d[1], y: d => d[2], text: d => d[0], textAnchor: a, fontSize: 12.5, fill: "#1a1a1a"})),
    Plot.text(groupLabels, {x: d => d[1], y: d => d[2], text: d => d[0], fontSize: d => d[0] === "AP1" ? 22 : 24, fontWeight: "bold", fill: "#111"})
  ]
}), 822, 370);
addText("<b>H1-ESC structural impact site motif enrichment</b> z-score", 1326, 1356, 30);
addText("<b>HFF structural impact site motif enrichment</b>&nbsp; z-score", 804, 855, 30, {rotate: -90});

// legend
addText("Motif<br>DNA-binding<br>domain", 844, 1499, 23.5, {align: "center", lh: "27.5px"});
const legSym = [d3.symbolSquare, d3.symbolTriangle, d3.symbolCircle, d3.symbolDiamond2, symbolDown];
const legR = [5.6, 5.6, 5.4, 5.6, 6.0];
const legX = [927.6, 1087, 1289, 1484, 1699];
famCols.forEach((col, c) => {
  const items = col.map((f, r) => ({f, r}));
  addPlot(Plot.plot({
    width: 210, height: 8 * 24.4 + 24, marginLeft: 12, marginRight: 0, marginTop: 12, marginBottom: 12,
    y: {type: "point", domain: [0, 1, 2, 3, 4, 5, 6, 7, 8], padding: 0, axis: null},
    color: colorScale, style: STYLE,
    marks: [
      Plot.dot(items, {y: "r", fill: "f", symbol: legSym[c], r: legR[c], frameAnchor: "left", fillOpacity: 0.8}),
      Plot.text(items, {y: "r", text: "f", frameAnchor: "left", dx: 23, textAnchor: "start", fontSize: 24, fill: "#1a1a1a"})
    ]
  }), legX[c] - 12, 1404 - 12);
});
</script></body></html>
